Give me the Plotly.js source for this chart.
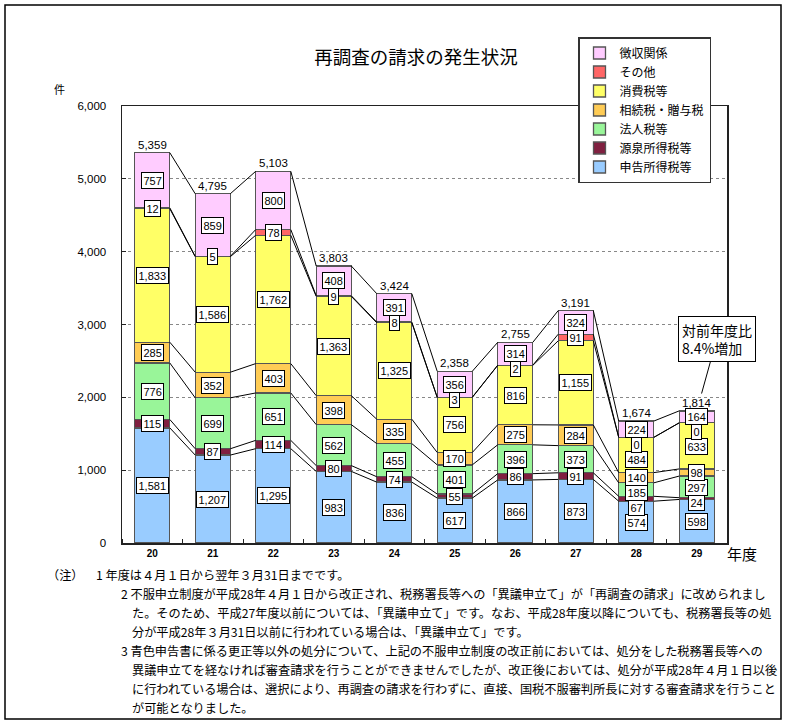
<!DOCTYPE html>
<html><head><meta charset="utf-8">
<script src="https://cdn.plot.ly/plotly-3.0.1.min.js"></script>
<style>html,body{margin:0;padding:0;background:#fff}</style>
</head><body><div id="chart" style="width:789px;height:725px"></div>
<script>
// ---- data ----
const years = ['20','21','22','23','24','25','26','27','28','29'];
const seriesNames = ['申告所得税等','源泉所得税等','法人税等','相続税・贈与税','消費税等','その他','徴収関係'];
const shinkoku = [1581,1207,1295,983,836,617,866,873,574,598];
const gensen   = [115,87,114,80,74,55,86,91,67,24];
const houjin   = [776,699,651,562,455,401,396,373,185,297];
const souzoku  = [285,352,403,398,335,170,275,284,140,98];
const shouhi   = [1833,1586,1762,1363,1325,756,816,1155,484,633];
const sonota   = [12,5,78,9,8,3,2,91,0,0];
const choushu  = [757,859,800,408,391,356,314,324,224,164];
const yTicks = [0,1000,2000,3000,4000,5000,6000];
const titleText = '再調査の請求の発生状況';
const yUnit = '件';
const xUnit = '年度';
const calloutText = '対前年度比<br>8.4%増加';
const noteHead = '（注）';
const noteLines = [
  '1 年度は４月１日から翌年３月31日までです。',
  '2 不服申立制度が平成28年４月１日から改正され、税務署長等への「異議申立て」が「再調査の請求」に改められまし',
  'た。そのため、平成27年度以前については、「異議申立て」です。なお、平成28年度以降についても、税務署長等の処',
  '分が平成28年３月31日以前に行われている場合は、「異議申立て」です。',
  '3 青色申告書に係る更正等以外の処分について、上記の不服申立制度の改正前においては、処分をした税務署長等への',
  '異議申立てを経なければ審査請求を行うことができませんでしたが、改正後においては、処分が平成28年４月１日以後',
  'に行われている場合は、選択により、再調査の請求を行わずに、直接、国税不服審判所長に対する審査請求を行うこと',
  'が可能となりました。'
];

// ---- styles ----
const colors = ['#99CCFF','#802040','#99F599','#FFCC55','#FFFF66','#FF6666','#FFCCFF'];
const allSeries = [shinkoku,gensen,houjin,souzoku,shouhi,sonota,choushu];
const W = 789, H = 725, L = 122, R = 727, T = 106, B = 543;
const barW = 0.58;
const px2x = p => (p - L) / (R - L);
const py2y = p => (B - p) / (B - T);
const fmt = v => v.toLocaleString('en-US');

const xIdx = years.map((_, i) => i);
const traces = [];
allSeries.forEach((vals, k) => {
  traces.push({
    type: 'bar', name: seriesNames[k], x: xIdx, y: vals, width: barW,
    marker: {color: colors[k], line: {color: '#555', width: 1.3}},
    hoverinfo: 'skip'
  });
});

// cumulative boundaries
const cum = [];
allSeries.forEach((vals, k) => {
  cum.push(vals.map((v, i) => v + (k > 0 ? cum[k-1][i] : 0)));
});
const totals = cum[cum.length - 1];

// series lines
cum.forEach(c => {
  const xs = [], ys = [];
  for (let i = 0; i < years.length - 1; i++) {
    xs.push(i + barW/2, i + 1 - barW/2, null);
    ys.push(c[i], c[i+1], null);
  }
  traces.push({type: 'scatter', mode: 'lines', x: xs, y: ys, showlegend: false,
    hoverinfo: 'skip', line: {color: '#000', width: 1}});
});

const annotations = [];
// segment labels with simple top-down spacing
const minSep = 15 / ((B - T) / 6000);
for (let i = 0; i < years.length; i++) {
  const pos = [];
  const centers = allSeries.map((vals, k) => (k > 0 ? cum[k-1][i] : 0) + vals[i] / 2);
  pos[6] = centers[6];
  for (let k = 5; k >= 0; k--) pos[k] = Math.min(centers[k], pos[k+1] - minSep);
  allSeries.forEach((vals, k) => {
    annotations.push({x: i, y: pos[k], xref: 'x', yref: 'y', text: fmt(vals[i]), showarrow: false,
      font: {family: 'Arial', size: 11, color: '#000'}, bgcolor: '#fff', bordercolor: '#000',
      borderwidth: 1, borderpad: 1.5});
  });
  annotations.push({x: i, y: totals[i], xref: 'x', yref: 'y', text: fmt(totals[i]), showarrow: false,
    yanchor: 'bottom', font: {family: 'Arial', size: 11.5, color: '#000'}});
}
// callout
annotations.push({x: years.length - 1, y: totals[years.length - 1], xref: 'x', yref: 'y',
  text: calloutText, showarrow: true, arrowhead: 0, arrowwidth: 1, arrowcolor: '#000',
  ax: 20, ay: -72, standoff: 18, align: 'left', bgcolor: '#fff', bordercolor: '#000', borderwidth: 1,
  borderpad: 3, font: {family: 'Noto Sans CJK JP', size: 14, color: '#000'}});
// axis units
annotations.push({xref: 'paper', yref: 'paper', x: px2x(59), y: py2y(89), xanchor: 'center', yanchor: 'middle',
  text: yUnit, showarrow: false, font: {family: 'Noto Sans CJK JP', size: 11, color: '#000'}});
annotations.push({xref: 'paper', yref: 'paper', x: px2x(742), y: py2y(553), xanchor: 'center', yanchor: 'middle',
  text: xUnit, showarrow: false, font: {family: 'Noto Sans CJK JP', size: 15, color: '#000'}});
// notes
const noteFont = {family: 'Noto Sans CJK JP', size: 12.2, color: '#000'};
annotations.push({xref: 'paper', yref: 'paper', x: px2x(45), y: py2y(575), xanchor: 'left', yanchor: 'middle',
  text: noteHead, showarrow: false, font: noteFont});
const noteX = [94, 119, 130, 130, 119, 130, 130, 130];
noteLines.forEach((t, j) => {
  annotations.push({xref: 'paper', yref: 'paper', x: px2x(noteX[j]), y: py2y(575 + j * 19), xanchor: 'left',
    yanchor: 'middle', text: t, showarrow: false, font: noteFont});
});

const shapes = [{type: 'rect', xref: 'paper', yref: 'paper', x0: px2x(5), x1: px2x(781), y0: py2y(719), y1: py2y(5),
  line: {color: '#000', width: 1.5}}];

const layout = {
  width: W, height: H,
  margin: {l: L, r: W - R, t: T, b: H - B},
  paper_bgcolor: '#fff', plot_bgcolor: '#fff',
  barmode: 'stack',
  title: {text: titleText, x: 416 / W, xref: 'container', xanchor: 'center', y: 1 - 58 / H, yref: 'container', yanchor: 'middle',
    font: {family: 'Noto Sans CJK JP', size: 18.5, color: '#000'}},
  xaxis: {range: [-0.5, years.length - 0.5], tickmode: 'array', tickvals: xIdx, ticktext: years, ticks: '',
    tickfont: {family: 'Arial', size: 10, color: '#000', weight: 'bold'},
    showline: true, linecolor: '#222', linewidth: 1.5, mirror: true, showgrid: false, zeroline: false,
    minor: {tickmode: 'linear', tick0: 0.5, dtick: 1, ticks: 'inside', ticklen: 4, tickcolor: '#222', showgrid: false}},
  yaxis: {range: [0, 6000], tickmode: 'array', tickvals: yTicks, ticktext: yTicks.map(fmt), ticks: 'inside', ticklen: 4,
    tickcolor: '#222', ticklabelstandoff: 12,
    tickfont: {family: 'Arial', size: 11.5, color: '#000'},
    showline: true, linecolor: '#222', linewidth: 1.5, mirror: true,
    showgrid: true, gridcolor: '#888', griddash: 'dot', gridwidth: 1, zeroline: false},
  legend: {x: px2x(578), y: py2y(37), xanchor: 'left', yanchor: 'top', traceorder: 'reversed',
    bgcolor: '#fff', bordercolor: '#333', borderwidth: 1.5,
    font: {family: 'Noto Sans CJK JP', size: 12, color: '#000'}, itemwidth: 30},
  annotations: annotations,
  shapes: shapes,
  showlegend: true
};

Plotly.newPlot('chart', traces, layout, {staticPlot: true, displayModeBar: false});
</script>
</body></html>
